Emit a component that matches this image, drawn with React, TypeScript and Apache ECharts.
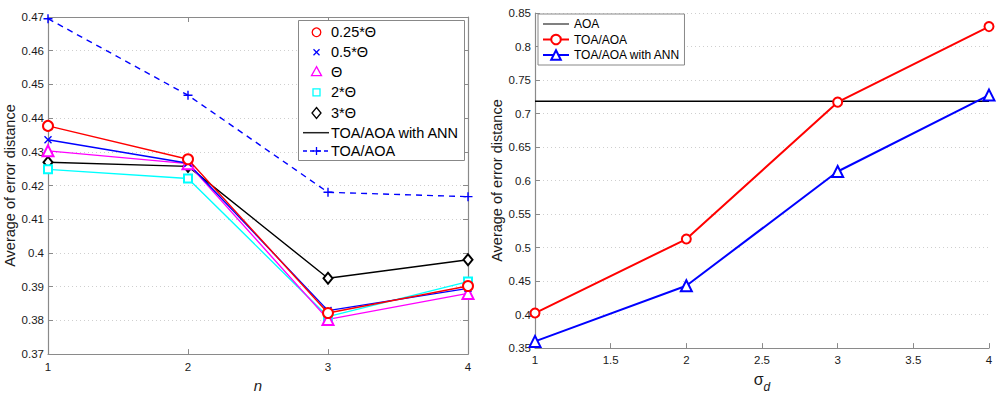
import React, { useEffect, useRef } from "react";
import * as echarts from "echarts";

// ---- Left chart data (x = n) ----
const nValues = [1, 2, 3, 4];
const theta025 = [0.4377, 0.4278, 0.3822, 0.3902];
const theta05 = [0.4336, 0.4266, 0.3829, 0.3895];
const theta1 = [0.4303, 0.4265, 0.3803, 0.388];
const theta2 = [0.4248, 0.4221, 0.3811, 0.3915];
const theta3 = [0.4269, 0.4257, 0.3925, 0.398];
const toaAoaLeft = [0.4695, 0.4468, 0.418, 0.4167];

// ---- Right chart data (x = sigma_d) ----
const sigmaValues = [1, 2, 3, 4];
const aoa = [0.7183, 0.7183, 0.7183, 0.7183];
const toaAoa = [0.4023, 0.5127, 0.717, 0.8297];
const toaAoaAnn = [0.36, 0.443, 0.6135, 0.7275];

// ---- Legend labels ----
const leftLegend = ["0.25*Θ", "0.5*Θ", "Θ", "2*Θ", "3*Θ", "TOA/AOA with ANN", "TOA/AOA"];
const rightLegend = ["AOA", "TOA/AOA", "TOA/AOA with ANN"];

const FONT = "'Liberation Sans', Arial, Helvetica, sans-serif";
const AXIS_COLOR = "#8a8a8a";
const LABEL_COLOR = "#1a1a1a";

const pairs = (xs: number[], ys: number[]) => xs.map((x, i) => [x, ys[i]]);

const X_PATH = "path://M0,0L10,10M10,0L0,10";
const PLUS_PATH = "path://M5,0L5,10M0,5L10,5";

export default function App() {
  const ref = useRef<HTMLDivElement>(null);

  useEffect(() => {
    if (!ref.current) return;
    const chart = echarts.init(ref.current, null, { renderer: "svg" });

    const tickStyle = { show: true, inside: true, length: 5, lineStyle: { color: AXIS_COLOR, width: 1 } };
    const lineStyleAxis = { show: true, lineStyle: { color: AXIS_COLOR, width: 1.2 } };
    const labelStyle = { color: LABEL_COLOR, fontSize: 11.5, fontFamily: FONT };
    const splitDotted = { show: true, lineStyle: { color: "#cfcfcf", type: [1, 3] as any, width: 1 } };

    const lx = 316.5;
    const rowY = [32.3, 52.3, 71.7, 92.3, 113, 132.7, 151];
    const txtX = 331;

    const legendGraphic: any[] = [
      { type: "rect", shape: { x: 298.5, y: 20.5, width: 166, height: 140 }, style: { fill: "#fff", stroke: "#888", lineWidth: 1 }, z: 100 },
      { type: "circle", shape: { cx: lx, cy: rowY[0], r: 4.3 }, style: { fill: "none", stroke: "#f00", lineWidth: 1.3 }, z: 101 },
      { type: "line", shape: { x1: lx - 3, y1: rowY[1] - 3, x2: lx + 3, y2: rowY[1] + 3 }, style: { stroke: "#00f", lineWidth: 1.3 }, z: 101 },
      { type: "line", shape: { x1: lx - 3, y1: rowY[1] + 3, x2: lx + 3, y2: rowY[1] - 3 }, style: { stroke: "#00f", lineWidth: 1.3 }, z: 101 },
      { type: "polygon", shape: { points: [[lx, rowY[2] - 5], [lx - 5, rowY[2] + 4], [lx + 5, rowY[2] + 4]] }, style: { fill: "none", stroke: "#f0f", lineWidth: 1.3 }, z: 101 },
      { type: "rect", shape: { x: lx - 3.5, y: rowY[3] - 3.5, width: 7, height: 7 }, style: { fill: "none", stroke: "#0ff", lineWidth: 1.3 }, z: 101 },
      { type: "polygon", shape: { points: [[lx, rowY[4] - 5.5], [lx + 4.5, rowY[4]], [lx, rowY[4] + 5.5], [lx - 4.5, rowY[4]]] }, style: { fill: "none", stroke: "#000", lineWidth: 1.3 }, z: 101 },
      { type: "line", shape: { x1: 303, y1: rowY[5], x2: 329, y2: rowY[5] }, style: { stroke: "#222", lineWidth: 1.5 }, z: 101 },
      { type: "line", shape: { x1: 303, y1: rowY[6], x2: 329, y2: rowY[6] }, style: { stroke: "#00f", lineWidth: 1.3, lineDash: [4, 3] }, z: 101 },
      { type: "line", shape: { x1: lx - 4, y1: rowY[6], x2: lx + 4, y2: rowY[6] }, style: { stroke: "#00f", lineWidth: 1.3 }, z: 101 },
      { type: "line", shape: { x1: lx, y1: rowY[6] - 4, x2: lx, y2: rowY[6] + 4 }, style: { stroke: "#00f", lineWidth: 1.3 }, z: 101 },
      ...leftLegend.map((t, i) => ({
        type: "text",
        x: txtX,
        y: rowY[i],
        style: { text: t, fill: "#000", fontSize: 14.5, fontFamily: FONT, verticalAlign: "middle", align: "left" },
        z: 101,
      })),
    ];

    const option: any = {
      animation: false,
      backgroundColor: "#fff",
      grid: [
        { left: 48, top: 17, width: 420, height: 347 },
        { left: 535, top: 13, width: 454, height: 344 },
      ],
      xAxis: [
        {
          type: "value", gridIndex: 0, position: "bottom", min: 1, max: 4, interval: 1,
          axisLine: lineStyleAxis, axisTick: tickStyle, axisLabel: { ...labelStyle, margin: 7 }, splitLine: { show: false },
          name: "n", nameLocation: "middle", nameGap: 15,
          nameTextStyle: { fontSize: 15, fontStyle: "italic", fontFamily: FONT, color: LABEL_COLOR },
        },
        {
          type: "value", gridIndex: 0, position: "top", min: 1, max: 4, interval: 1,
          axisLine: lineStyleAxis, axisTick: tickStyle, axisLabel: { show: false }, splitLine: { show: false },
        },
        {
          type: "value", gridIndex: 1, position: "bottom", min: 1, max: 4, interval: 0.5,
          axisLine: lineStyleAxis, axisTick: tickStyle, axisLabel: { ...labelStyle, margin: 6 }, splitLine: { show: false },
          name: "{s|σ}{d|d}", nameLocation: "middle", nameGap: 10,
          nameTextStyle: {
            color: LABEL_COLOR, fontFamily: FONT,
            rich: {
              s: { fontSize: 16, fontFamily: FONT, color: LABEL_COLOR, lineHeight: 22, verticalAlign: "top" },
              d: { fontSize: 12, fontStyle: "italic", fontFamily: FONT, color: LABEL_COLOR, lineHeight: 22, verticalAlign: "bottom" },
            },
          },
        },
      ],
      yAxis: [
        {
          type: "value", gridIndex: 0, position: "left", min: 0.37, max: 0.47, interval: 0.01,
          axisLine: lineStyleAxis, axisTick: tickStyle, axisLabel: { ...labelStyle, margin: 4 }, splitLine: splitDotted,
          name: "Average of error distance", nameLocation: "middle", nameGap: 30, nameRotate: 90,
          nameTextStyle: { fontSize: 14.5, fontFamily: FONT, color: LABEL_COLOR },
        },
        {
          type: "value", gridIndex: 0, position: "right", min: 0.37, max: 0.47, interval: 0.01,
          axisLine: lineStyleAxis, axisTick: tickStyle, axisLabel: { show: false }, splitLine: { show: false },
        },
        {
          type: "value", gridIndex: 1, position: "left", min: 0.35, max: 0.85, interval: 0.05,
          axisLine: lineStyleAxis, axisTick: tickStyle, axisLabel: { ...labelStyle, margin: 4 }, splitLine: splitDotted,
          name: "Average of error distance", nameLocation: "middle", nameGap: 30, nameRotate: 90,
          nameTextStyle: { fontSize: 14.5, fontFamily: FONT, color: LABEL_COLOR },
        },
      ],
      legend: {
        selectedMode: false,
        orient: "vertical",
        left: 538,
        top: 14,
        padding: [3, 4, 3, 4],
        itemWidth: 26,
        itemHeight: 12,
        itemGap: 1.5,
        borderColor: "#888",
        borderWidth: 1,
        backgroundColor: "#fff",
        textStyle: { fontSize: 12, fontFamily: FONT, color: "#000", lineHeight: 14 },
        data: [
          { name: rightLegend[0], icon: "path://M0,0H26V1H0Z" },
          { name: rightLegend[1] },
          { name: rightLegend[2] },
        ],
      },
      series: [
        // right chart first (legend lookup)
        {
          name: rightLegend[0], type: "line", xAxisIndex: 2, yAxisIndex: 2, data: pairs(sigmaValues, aoa),
          symbol: "none", lineStyle: { color: "#000", width: 1.5 }, itemStyle: { color: "#000" }, z: 3,
        },
        {
          name: rightLegend[1], type: "line", xAxisIndex: 2, yAxisIndex: 2, data: pairs(sigmaValues, toaAoa),
          symbol: "emptyCircle", symbolSize: 9, showAllSymbol: true,
          lineStyle: { color: "#f00", width: 2 }, itemStyle: { color: "#f00", borderColor: "#f00", borderWidth: 1.6 }, z: 4,
        },
        {
          name: rightLegend[2], type: "line", xAxisIndex: 2, yAxisIndex: 2, data: pairs(sigmaValues, toaAoaAnn),
          symbol: "emptyTriangle", symbolSize: 11, showAllSymbol: true,
          lineStyle: { color: "#00f", width: 2 }, itemStyle: { color: "#00f", borderColor: "#00f", borderWidth: 1.6 }, z: 4,
        },
        // left chart
        {
          name: "TOA/AOA", type: "line", xAxisIndex: 0, yAxisIndex: 0, data: pairs(nValues, toaAoaLeft),
          symbol: PLUS_PATH, symbolSize: 9, showAllSymbol: true,
          lineStyle: { color: "#00f", width: 1.4, type: [6, 5] },
          itemStyle: { color: "#00f", borderColor: "#00f", borderWidth: 1.4 }, z: 3,
        },
        {
          name: leftLegend[4], type: "line", xAxisIndex: 0, yAxisIndex: 0, data: pairs(nValues, theta3),
          symbol: "emptyDiamond", symbolSize: [9, 11], showAllSymbol: true,
          lineStyle: { color: "#000", width: 1.4 }, itemStyle: { color: "#000", borderColor: "#000", borderWidth: 1.3 }, z: 3,
        },
        {
          name: leftLegend[3], type: "line", xAxisIndex: 0, yAxisIndex: 0, data: pairs(nValues, theta2),
          symbol: "emptyRect", symbolSize: 8, showAllSymbol: true,
          lineStyle: { color: "#0ff", width: 1.4 }, itemStyle: { color: "#0ff", borderColor: "#0ff", borderWidth: 1.3 }, z: 3,
        },
        {
          name: leftLegend[2], type: "line", xAxisIndex: 0, yAxisIndex: 0, data: pairs(nValues, theta1),
          symbol: "emptyTriangle", symbolSize: 11, showAllSymbol: true,
          lineStyle: { color: "#f0f", width: 1.4 }, itemStyle: { color: "#f0f", borderColor: "#f0f", borderWidth: 1.3 }, z: 3,
        },
        {
          name: leftLegend[1], type: "line", xAxisIndex: 0, yAxisIndex: 0, data: pairs(nValues, theta05),
          symbol: X_PATH, symbolSize: 7, showAllSymbol: true,
          lineStyle: { color: "#00f", width: 1.4 }, itemStyle: { color: "#00f", borderColor: "#00f", borderWidth: 1.4 }, z: 3,
        },
        {
          name: leftLegend[0], type: "line", xAxisIndex: 0, yAxisIndex: 0, data: pairs(nValues, theta025),
          symbol: "emptyCircle", symbolSize: 10, showAllSymbol: true,
          lineStyle: { color: "#f00", width: 1.4 }, itemStyle: { color: "#f00", borderColor: "#f00", borderWidth: 1.3 }, z: 3,
        },
      ],
      graphic: legendGraphic,
    };

    chart.setOption(option);
    return () => chart.dispose();
  }, []);

  return (
    <div
      ref={ref}
      style={{ position: "fixed", left: 0, top: 0, width: 1000, height: 398, background: "#fff" }}
    />
  );
}
